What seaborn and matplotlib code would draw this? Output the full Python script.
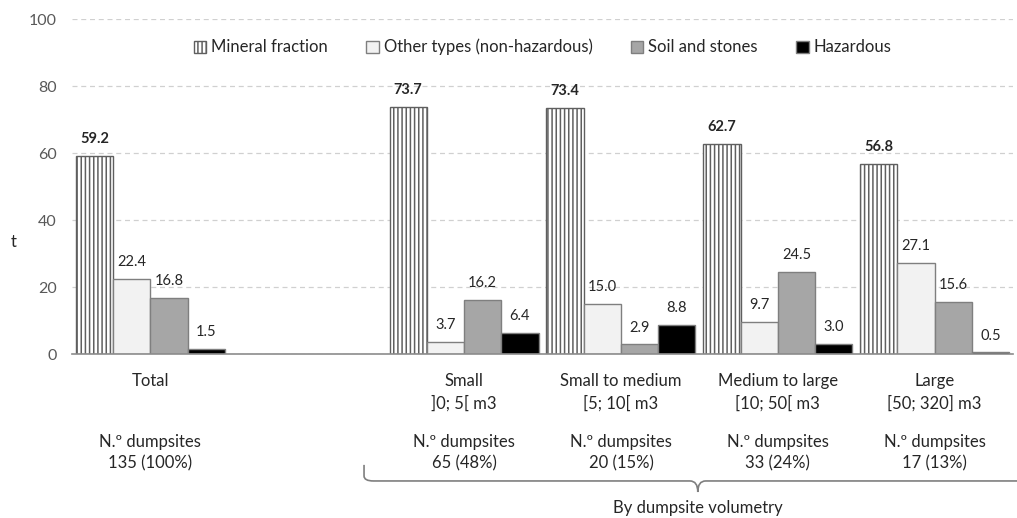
import numpy as np
import pandas as pd
import seaborn as sns
import matplotlib.pyplot as plt
import matplotlib.transforms as mtransforms
from matplotlib.patches import Patch, PathPatch
from matplotlib.path import Path

## data
groups = ["Total", "Small", "Small to medium", "Medium to large", "Large"]
order = ["Total", " ", "Small", "Small to medium", "Medium to large", "Large"]
group_labels = ["Total", "", "Small\n]0; 5[ m3", "Small to medium\n[5; 10[ m3",
                "Medium to large\n[10; 50[ m3", "Large\n[50; 320] m3"]
dumpsites = ["N.º dumpsites\n135 (100%)", "", "N.º dumpsites\n65 (48%)",
             "N.º dumpsites\n20 (15%)", "N.º dumpsites\n33 (24%)", "N.º dumpsites\n17 (13%)"]
waste_types = ["Mineral fraction", "Other types (non-hazardous)", "Soil and stones", "Hazardous"]
mineral = [59.2, 73.7, 73.4, 62.7, 56.8]
other = [22.4, 3.7, 15.0, 9.7, 27.1]
soil = [16.8, 16.2, 2.9, 24.5, 15.6]
hazardous = [1.5, 6.4, 8.8, 3.0, 0.5]
colors = ["#ffffff", "#f2f2f2", "#a6a6a6", "#000000"]

#long format table for seaborn
rows = []
for name, vals in zip(waste_types, [mineral, other, soil, hazardous]):
    for g, v in zip(groups, vals):
        rows.append({"group": g, "type": name, "t": v})
df = pd.DataFrame(rows)

sns.set_theme(style="white")
plt.rcParams["font.family"] = ["Lato", "DejaVu Sans"]
plt.rcParams["hatch.linewidth"] = 1.1

fig = plt.figure(figsize=(10.17, 5.18), dpi=100)
ax = fig.add_axes([0.0708, 0.3166, 0.9253, 0.6467])

sns.barplot(data=df, x="group", y="t", hue="type", order=order, hue_order=waste_types,
            palette=colors, width=0.95, edgecolor="#7f7f7f", linewidth=1.0,
            legend=False, ax=ax)

text_col = "#262626"
for i, cont in enumerate(ax.containers):
    for bar in cont:
        if i == 0:
            bar.set_hatch("||||")
            bar.set_edgecolor("#5f5f5f")
    ax.bar_label(cont, fmt="%.1f", padding=7, fontsize=10.5, color=text_col,
                 fontweight="bold" if i == 0 else "normal")

ax.set_xlim(-0.5, 5.5)
ax.set_ylim(0, 100)
ax.set_yticks([0, 20, 40, 60, 80, 100])
ax.tick_params(axis="y", length=0, labelsize=11.5, labelcolor="#595959", pad=11)
ax.yaxis.grid(True, linestyle=(0, (4, 3)), color="#d0d0d0", linewidth=0.9)
ax.set_axisbelow(True)
ax.set_ylabel("")
ax.set_xlabel("")

# category boundaries as ticks, labels drawn as text
ax.set_xticks(np.arange(-0.5, 6, 1.0))
ax.set_xticklabels([])
ax.tick_params(axis="x", length=10, direction="inout", color="#8c8c8c", width=1)
for s in ["left", "right", "top"]:
    ax.spines[s].set_visible(False)
ax.spines["bottom"].set_color("#8c8c8c")
ax.spines["bottom"].set_linewidth(1.2)

trans = mtransforms.blended_transform_factory(ax.transData, ax.transAxes)
for i, (lab, ds) in enumerate(zip(group_labels, dumpsites)):
    ax.text(i, -0.058, lab, transform=trans, ha="center", va="top", fontsize=12,
            color=text_col, linespacing=1.4)
    ax.text(i, -0.24, ds, transform=trans, ha="center", va="top", fontsize=12,
            color=text_col, linespacing=1.4)

fig.text(14 / 1017, 1 - 242 / 518, "t", ha="center", va="center", fontsize=12, color=text_col)

# brace under the volumetry groups
xl, xc, xr = 1.362, 3.49, 5.6
yt, yh, yb = -0.331, -0.379, -0.412
verts = [(xl, yt), (xl, yh + 0.015), (xl, yh), (xl + 0.06, yh), (xc - 0.05, yh),
         (xc, yh), (xc, yb), (xc, yh), (xc + 0.05, yh), (xr, yh)]
codes = [Path.MOVETO, Path.LINETO, Path.CURVE3, Path.CURVE3, Path.LINETO,
         Path.CURVE3, Path.CURVE3, Path.CURVE3, Path.CURVE3, Path.LINETO]
ax.add_patch(PathPatch(Path(verts, codes), transform=trans, fill=False,
                       edgecolor="#7f7f7f", linewidth=1.2, clip_on=False))
ax.text(xc, -0.46, "By dumpsite volumetry", transform=trans, ha="center", va="center",
        fontsize=12, color=text_col)

handles = []
for name, c in zip(waste_types, colors):
    if name == "Mineral fraction":
        handles.append(Patch(facecolor=c, edgecolor="#5f5f5f", hatch="||||", label=name))
    else:
        handles.append(Patch(facecolor=c, edgecolor="#7f7f7f", label=name))
ax.legend(handles=handles, loc="center", bbox_to_anchor=(0.5, 0.916), ncol=4,
          frameon=False, fontsize=12, handlelength=0.75, handleheight=0.75,
          handletextpad=0.3, columnspacing=2.3, labelcolor=text_col)

fig.savefig("out.png", dpi=100)
